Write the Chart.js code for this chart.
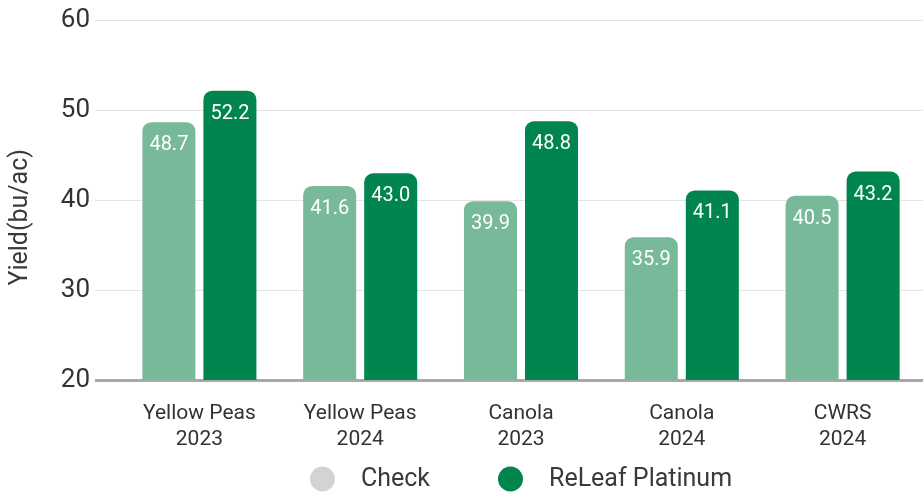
<!DOCTYPE html>
<html>
<head>
<meta charset="utf-8">
<script src="https://cdn.jsdelivr.net/npm/chart.js@4.4.1/dist/chart.umd.min.js"></script>
<style>
  html, body { margin: 0; padding: 0; background: #fff; }
  #wrap { width: 923px; height: 495px; position: relative; }
</style>
</head>
<body>
<div id="wrap"><canvas id="chart"></canvas></div>
<script>
const categories = [
  ["Yellow Peas", "2023"],
  ["Yellow Peas", "2024"],
  ["Canola", "2023"],
  ["Canola", "2024"],
  ["CWRS", "2024"]
];
const seriesNames = ["Check", "ReLeaf Platinum"];
const checkValues = [48.7, 41.6, 39.9, 35.9, 40.5];
const releafValues = [52.2, 43.0, 48.8, 41.1, 43.2];
const yTicks = [20, 30, 40, 50, 60];
const yTitle = "Yield(bu/ac)";

const lightGreen = "#78b999";
const darkGreen = "#00854f";
const legendColors = ["#d3d3d6", darkGreen];
const fontFamily = "Roboto, 'Open Sans', sans-serif";

// white value labels inside the top of each bar
const valueLabels = {
  id: "valueLabels",
  afterDatasetsDraw(chart) {
    const ctx = chart.ctx;
    ctx.save();
    ctx.font = "20px " + fontFamily;
    ctx.fillStyle = "#ffffff";
    ctx.textAlign = "center";
    ctx.textBaseline = "middle";
    chart.data.datasets.forEach((ds, i) => {
      chart.getDatasetMeta(i).data.forEach((bar, j) => {
        ctx.fillText(ds.data[j].toFixed(1), bar.x, bar.y + 23);
      });
    });
    ctx.restore();
  }
};

// y title, sits a bit below the middle of the plot like the original
const sideTitle = {
  id: "sideTitle",
  afterDraw(chart) {
    const ctx = chart.ctx;
    const area = chart.chartArea;
    ctx.save();
    ctx.translate(21, (area.top + area.bottom) / 2 + 17);
    ctx.rotate(-Math.PI / 2);
    ctx.font = "25px " + fontFamily;
    ctx.fillStyle = "#3a3a3a";
    ctx.textAlign = "center";
    ctx.textBaseline = "middle";
    ctx.fillText(yTitle, 0, 0);
    ctx.restore();
  }
};

// legend with round markers, centred under the plot area
const roundLegend = {
  id: "roundLegend",
  afterDraw(chart) {
    const ctx = chart.ctx;
    const area = chart.chartArea;
    ctx.save();
    ctx.font = "25px " + fontFamily;
    ctx.textBaseline = "middle";
    const r = 12.5, textGap = 51, itemGap = 68;
    const widths = seriesNames.map(n => textGap + ctx.measureText(n).width);
    const total = widths.reduce((a, b) => a + b, 0) + itemGap * (widths.length - 1);
    let x = (area.left + area.right) / 2 - total / 2;
    const y = area.bottom + 99;
    seriesNames.forEach((name, i) => {
      ctx.fillStyle = legendColors[i];
      ctx.beginPath();
      ctx.arc(x + r, y, r, 0, Math.PI * 2);
      ctx.fill();
      ctx.fillStyle = "#3a3a3a";
      ctx.fillText(name, x + textGap, y + 1);
      x += widths[i] + itemGap;
    });
    ctx.restore();
  }
};

new Chart(document.getElementById("chart"), {
  type: "bar",
  data: {
    labels: categories,
    datasets: [
      {
        label: seriesNames[0],
        data: checkValues,
        backgroundColor: lightGreen,
        borderRadius: { topLeft: 9, topRight: 9 },
        borderSkipped: "bottom"
      },
      {
        label: seriesNames[1],
        data: releafValues,
        backgroundColor: darkGreen,
        borderRadius: { topLeft: 9, topRight: 9 },
        borderSkipped: "bottom"
      }
    ]
  },
  options: {
    responsive: true,
    maintainAspectRatio: false,
    animation: false,
    datasets: { bar: { categoryPercentage: 0.759, barPercentage: 0.869 } },
    layout: { padding: { top: 4, right: 0, bottom: 0, left: 0 } },
    plugins: {
      legend: { display: false },
      tooltip: { enabled: false }
    },
    scales: {
      x: {
        grid: { display: false },
        border: { display: false },
        ticks: {
          color: "#333333",
          font: { family: fontFamily, size: 21, lineHeight: 1.24 },
          padding: 13,
          maxRotation: 0
        },
        afterFit(scale) { scale.height = 115; }
      },
      y: {
        min: yTicks[0],
        max: yTicks[yTicks.length - 1],
        afterBuildTicks(scale) { scale.ticks = yTicks.map(v => ({ value: v })); },
        border: { display: false },
        grid: {
          color: ctx => ctx.tick && ctx.tick.value === yTicks[0] ? "#a9a9a9" : "#e4e4e4",
          lineWidth: ctx => ctx.tick && ctx.tick.value === yTicks[0] ? 3 : 1,
          tickLength: 24
        },
        ticks: {
          color: "#333333",
          font: { family: fontFamily, size: 26 },
          padding: 5
        },
        afterFit(scale) { scale.width = 119; }
      }
    }
  },
  plugins: [valueLabels, sideTitle, roundLegend]
});
</script>
</body>
</html>
